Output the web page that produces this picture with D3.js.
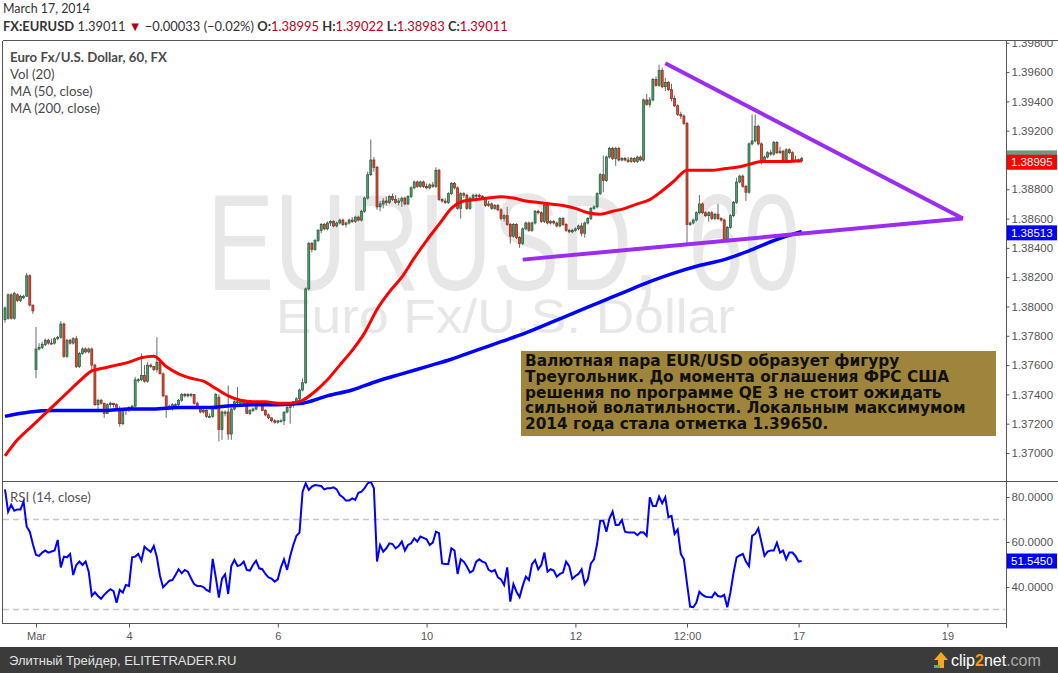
<!DOCTYPE html>
<html>
<head>
<meta charset="utf-8">
<script src="https://cdn.jsdelivr.net/npm/d3@7"></script>
<style>
  body { margin: 0; background: #fff; }
  svg { display: block; }
</style>
</head>
<body>
<div id="chart"></div>
<script>
// EUR/USD hourly candles, Feb 28 - Mar 17 2014 (one value per bar)
var opens = [
  1.3791,1.3792,1.3808,1.3792,1.3808,1.3804,1.3806,1.3807,1.3821,1.3801,
  1.3757,1.3771,1.3772,1.3774,1.3777,1.3775,1.3775,1.3778,1.3779,1.3788,
  1.3766,1.3777,1.3775,1.3778,1.3759,1.3768,1.3771,1.3769,1.3771,1.3760,
  1.3733,1.3736,1.3734,1.3727,1.3733,1.3734,1.3733,1.3730,1.3720,1.3729,
  1.3730,1.3731,1.3732,1.3750,1.3750,1.3753,1.3749,1.3760,1.3759,1.3757,
  1.3762,1.3754,1.3739,1.3732,1.3732,1.3733,1.3733,1.3736,1.3740,1.3739,
  1.3740,1.3740,1.3734,1.3731,1.3728,1.3729,1.3725,1.3725,1.3730,1.3738,
  1.3716,1.3727,1.3728,1.3713,1.3730,1.3735,1.3734,1.3735,1.3734,1.3727,
  1.3729,1.3730,1.3733,1.3734,1.3729,1.3726,1.3724,1.3722,1.3721,1.3722,
  1.3722,1.3728,1.3731,1.3734,1.3735,1.3737,1.3743,1.3748,1.3812,1.3843,
  1.3839,1.3845,1.3852,1.3856,1.3853,1.3857,1.3858,1.3855,1.3857,1.3859,
  1.3856,1.3857,1.3859,1.3858,1.3861,1.3859,1.3865,1.3874,1.3890,1.3900,
  1.3895,1.3868,1.3870,1.3872,1.3871,1.3875,1.3873,1.3871,1.3872,1.3874,
  1.3870,1.3875,1.3881,1.3885,1.3882,1.3885,1.3882,1.3881,1.3883,1.3882,
  1.3893,1.3873,1.3872,1.3871,1.3877,1.3884,1.3881,1.3867,1.3877,1.3876,
  1.3867,1.3874,1.3876,1.3876,1.3875,1.3874,1.3869,1.3870,1.3867,1.3869,
  1.3866,1.3860,1.3862,1.3856,1.3848,1.3856,1.3847,1.3843,1.3853,1.3857,
  1.3852,1.3857,1.3865,1.3864,1.3858,1.3869,1.3857,1.3858,1.3857,1.3855,
  1.3860,1.3856,1.3852,1.3851,1.3852,1.3853,1.3855,1.3850,1.3857,1.3860,
  1.3867,1.3868,1.3877,1.3890,1.3886,1.3902,1.3908,1.3901,1.3908,1.3900,
  1.3901,1.3900,1.3899,1.3901,1.3899,1.3902,1.3900,1.3941,1.3938,1.3941,
  1.3955,1.3951,1.3961,1.3950,1.3953,1.3948,1.3942,1.3937,1.3931,1.3930,
  1.3925,1.3856,1.3857,1.3859,1.3864,1.3870,1.3864,1.3862,1.3864,1.3860,
  1.3863,1.3860,1.3859,1.3846,1.3854,1.3862,1.3871,1.3885,1.3889,1.3882,
  1.3878,1.3911,1.3913,1.3923,1.3911,1.3899,1.3902,1.3905,1.3904,1.3912,
  1.3905,1.3906,1.3900,1.3907,1.3905,1.3900,1.3900,1.38995
];
var highs = [
  1.3800,1.3809,1.3809,1.3810,1.3809,1.3808,1.3808,1.3823,1.3822,1.3801,
  1.3786,1.3775,1.3776,1.3778,1.3778,1.3778,1.3779,1.3780,1.3790,1.3789,
  1.3778,1.3778,1.3779,1.3780,1.3769,1.3772,1.3772,1.3772,1.3772,1.3761,
  1.3737,1.3737,1.3734,1.3734,1.3735,1.3734,1.3734,1.3732,1.3730,1.3731,
  1.3732,1.3733,1.3752,1.3751,1.3768,1.3760,1.3762,1.3761,1.3759,1.3779,
  1.3762,1.3755,1.3739,1.3733,1.3734,1.3734,1.3737,1.3741,1.3741,1.3741,
  1.3741,1.3740,1.3735,1.3732,1.3730,1.3730,1.3727,1.3731,1.3741,1.3740,
  1.3729,1.3729,1.3746,1.3731,1.3736,1.3745,1.3736,1.3736,1.3735,1.3730,
  1.3731,1.3733,1.3734,1.3735,1.3730,1.3727,1.3724,1.3723,1.3722,1.3723,
  1.3728,1.3732,1.3734,1.3735,1.3738,1.3744,1.3751,1.3813,1.3844,1.3844,
  1.3846,1.3853,1.3857,1.3857,1.3858,1.3859,1.3859,1.3858,1.3860,1.3860,
  1.3858,1.3860,1.3861,1.3862,1.3862,1.3866,1.3875,1.3892,1.3914,1.3902,
  1.3896,1.3872,1.3874,1.3875,1.3876,1.3877,1.3876,1.3874,1.3875,1.3875,
  1.3876,1.3882,1.3886,1.3886,1.3886,1.3886,1.3884,1.3884,1.3885,1.3895,
  1.3894,1.3874,1.3874,1.3878,1.3885,1.3885,1.3882,1.3878,1.3878,1.3877,
  1.3875,1.3877,1.3877,1.3877,1.3876,1.3875,1.3872,1.3871,1.3870,1.3870,
  1.3867,1.3863,1.3868,1.3857,1.3857,1.3857,1.3848,1.3854,1.3858,1.3858,
  1.3858,1.3866,1.3866,1.3865,1.3870,1.3870,1.3859,1.3859,1.3858,1.3861,
  1.3861,1.3857,1.3853,1.3853,1.3854,1.3856,1.3857,1.3858,1.3861,1.3868,
  1.3869,1.3878,1.3891,1.3903,1.3903,1.3909,1.3909,1.3909,1.3909,1.3902,
  1.3902,1.3902,1.3902,1.3902,1.3903,1.3903,1.3942,1.3945,1.3943,1.3956,
  1.3957,1.3965,1.3963,1.3956,1.3954,1.3952,1.3944,1.3938,1.3933,1.3931,
  1.3926,1.3858,1.3860,1.3865,1.3876,1.3871,1.3865,1.3865,1.3865,1.3864,
  1.3870,1.3861,1.3860,1.3855,1.3863,1.3872,1.3888,1.3890,1.3890,1.3883,
  1.3912,1.3931,1.3931,1.3924,1.3912,1.3903,1.3906,1.3907,1.3913,1.3913,
  1.3909,1.3907,1.3908,1.3908,1.3906,1.3903,1.3901,1.39022
];
var lows = [
  1.3789,1.3791,1.3791,1.3791,1.3803,1.3803,1.3805,1.3807,1.3800,1.3795,
  1.3751,1.3770,1.3771,1.3773,1.3774,1.3774,1.3774,1.3777,1.3778,1.3765,
  1.3765,1.3774,1.3774,1.3758,1.3758,1.3767,1.3768,1.3768,1.3756,1.3732,
  1.3729,1.3733,1.3724,1.3727,1.3731,1.3731,1.3729,1.3718,1.3719,1.3726,
  1.3728,1.3730,1.3731,1.3748,1.3749,1.3748,1.3748,1.3758,1.3756,1.3755,
  1.3754,1.3738,1.3724,1.3730,1.3729,1.3731,1.3732,1.3735,1.3738,1.3738,
  1.3738,1.3733,1.3730,1.3727,1.3727,1.3724,1.3724,1.3724,1.3730,1.3708,
  1.3709,1.3725,1.3709,1.3709,1.3729,1.3733,1.3733,1.3733,1.3727,1.3726,
  1.3728,1.3729,1.3732,1.3729,1.3725,1.3723,1.3721,1.3720,1.3720,1.3721,
  1.3719,1.3727,1.3720,1.3731,1.3734,1.3736,1.3742,1.3747,1.3811,1.3837,
  1.3838,1.3844,1.3850,1.3852,1.3852,1.3855,1.3854,1.3854,1.3856,1.3855,
  1.3854,1.3856,1.3857,1.3857,1.3858,1.3858,1.3864,1.3873,1.3889,1.3892,
  1.3866,1.3865,1.3867,1.3869,1.3870,1.3872,1.3870,1.3869,1.3868,1.3869,
  1.3869,1.3874,1.3880,1.3881,1.3881,1.3881,1.3880,1.3880,1.3881,1.3881,
  1.3872,1.3871,1.3870,1.3870,1.3876,1.3880,1.3866,1.3860,1.3874,1.3866,
  1.3866,1.3873,1.3874,1.3874,1.3873,1.3868,1.3868,1.3866,1.3866,1.3865,
  1.3859,1.3858,1.3855,1.3843,1.3847,1.3846,1.3840,1.3842,1.3852,1.3851,
  1.3851,1.3856,1.3863,1.3857,1.3857,1.3856,1.3856,1.3856,1.3854,1.3854,
  1.3855,1.3851,1.3850,1.3850,1.3851,1.3852,1.3848,1.3847,1.3856,1.3859,
  1.3866,1.3867,1.3876,1.3878,1.3885,1.3901,1.3900,1.3896,1.3899,1.3899,
  1.3899,1.3898,1.3898,1.3898,1.3898,1.3899,1.3899,1.3937,1.3936,1.3940,
  1.3950,1.3950,1.3949,1.3947,1.3947,1.3940,1.3936,1.3930,1.3928,1.3924,
  1.3843,1.3855,1.3856,1.3858,1.3863,1.3863,1.3861,1.3858,1.3859,1.3859,
  1.3859,1.3858,1.3845,1.3845,1.3853,1.3861,1.3870,1.3884,1.3881,1.3872,
  1.3877,1.3910,1.3912,1.3910,1.3897,1.3898,1.3901,1.3903,1.3903,1.3904,
  1.3904,1.3899,1.3899,1.3904,1.3899,1.3899,1.3898,1.38983
];
var closes = [
  1.3799,1.3808,1.3792,1.3809,1.3804,1.3807,1.3807,1.3821,1.3801,1.3797,
  1.3771,1.3772,1.3774,1.3777,1.3775,1.3775,1.3778,1.3779,1.3788,1.3766,
  1.3777,1.3775,1.3778,1.3759,1.3768,1.3771,1.3769,1.3771,1.3760,1.3733,
  1.3736,1.3734,1.3727,1.3733,1.3734,1.3733,1.3730,1.3720,1.3729,1.3730,
  1.3731,1.3732,1.3750,1.3750,1.3753,1.3749,1.3760,1.3759,1.3757,1.3762,
  1.3754,1.3739,1.3732,1.3732,1.3733,1.3733,1.3736,1.3740,1.3739,1.3740,
  1.3740,1.3734,1.3731,1.3728,1.3729,1.3725,1.3725,1.3730,1.3740,1.3716,
  1.3728,1.3728,1.3713,1.3730,1.3735,1.3735,1.3735,1.3734,1.3727,1.3729,
  1.3730,1.3733,1.3734,1.3729,1.3726,1.3724,1.3722,1.3721,1.3722,1.3722,
  1.3728,1.3731,1.3734,1.3735,1.3737,1.3743,1.3748,1.3812,1.3843,1.3839,
  1.3845,1.3852,1.3856,1.3853,1.3857,1.3858,1.3855,1.3857,1.3859,1.3856,
  1.3857,1.3859,1.3858,1.3861,1.3859,1.3865,1.3874,1.3890,1.3900,1.3895,
  1.3868,1.3870,1.3872,1.3871,1.3875,1.3873,1.3871,1.3872,1.3874,1.3870,
  1.3875,1.3881,1.3885,1.3882,1.3885,1.3882,1.3881,1.3883,1.3882,1.3893,
  1.3873,1.3872,1.3871,1.3877,1.3884,1.3881,1.3867,1.3877,1.3876,1.3867,
  1.3874,1.3876,1.3876,1.3875,1.3874,1.3869,1.3870,1.3867,1.3869,1.3866,
  1.3860,1.3862,1.3856,1.3848,1.3856,1.3847,1.3843,1.3853,1.3857,1.3852,
  1.3857,1.3865,1.3864,1.3858,1.3869,1.3857,1.3858,1.3857,1.3855,1.3860,
  1.3856,1.3852,1.3851,1.3852,1.3853,1.3855,1.3850,1.3857,1.3860,1.3867,
  1.3868,1.3877,1.3890,1.3886,1.3902,1.3908,1.3901,1.3908,1.3900,1.3901,
  1.3900,1.3899,1.3901,1.3899,1.3902,1.3900,1.3941,1.3938,1.3941,1.3955,
  1.3951,1.3961,1.3950,1.3953,1.3948,1.3942,1.3937,1.3931,1.3930,1.3925,
  1.3856,1.3857,1.3859,1.3864,1.3870,1.3864,1.3862,1.3864,1.3860,1.3863,
  1.3860,1.3859,1.3846,1.3854,1.3862,1.3871,1.3885,1.3889,1.3882,1.3878,
  1.3911,1.3913,1.3923,1.3911,1.3899,1.3902,1.3905,1.3904,1.3912,1.3905,
  1.3906,1.3900,1.3907,1.3905,1.3900,1.3900,1.38995,1.39011
];

// moving averages, read every 4-8 bars
var ma50Bars = [0,4,8,12,16,20,24,28,32,36,40,44,48,52,56,60,64,68,72,76,80,84,88,92,96,100,104,108,112,116,120,124,128,132,136,140,144,148,152,156,160,164,168,172,176,180,184,188,192,196,200,204,208,212,216,220,224,228,232,236,240,244,248,252,257];
var ma50Vals = [1.3698,1.3709,1.3717,1.3725,1.3733,1.3741,1.3749,1.3756,1.3758,1.3760,1.3762,1.3765,1.3766,1.3759,1.3754,1.3751,1.3749,1.3744,1.3739,1.3736,1.3735,1.3735,1.3734,1.3734,1.3736,1.3742,1.3750,1.3760,1.3770,1.3782,1.3798,1.3810,1.3820,1.3833,1.3845,1.3856,1.3867,1.3872,1.3873,1.3874,1.3875,1.3874,1.3872,1.3871,1.3870,1.3869,1.3867,1.3864,1.3863,1.3865,1.3867,1.3870,1.3873,1.3879,1.3886,1.3893,1.3893,1.3893,1.3894,1.3895,1.3897,1.3899,1.3899,1.3899,1.38995];
var ma200Bars = [0,8,16,24,32,40,48,56,64,72,80,88,96,104,112,120,128,136,144,152,160,168,176,184,192,200,208,216,224,232,240,248,257];
var ma200Vals = [1.3725,1.3728,1.3729,1.3729,1.3729,1.3730,1.3730,1.3731,1.3731,1.3732,1.3733,1.3733,1.3734,1.3739,1.3743,1.3749,1.3754,1.3759,1.3764,1.3770,1.3776,1.3782,1.3789,1.3796,1.3803,1.3810,1.3817,1.3823,1.3828,1.3832,1.3838,1.3845,1.38513];

// RSI(14), one value per bar
var rsi = [
  83.4,73.5,76.5,73.9,74.5,74.5,77.9,66.8,64.6,59.0,
  54.2,53.8,55.3,56.2,55.3,55.8,56.2,60.9,48.7,53.5,
  53.2,54.7,45.3,49.8,51.3,49.8,51.3,46.8,36.0,37.6,
  36.0,34.8,36.5,37.9,39.0,38.2,33.0,38.7,37.5,40.9,
  40.5,53.2,53.5,54.7,51.7,57.9,56.7,55.6,58.2,53.2,
  44.9,39.9,41.3,42.8,43.1,45.3,47.9,46.1,47.6,46.8,
  43.9,41.3,40.5,40.5,40.0,38.7,37.9,52.5,44.3,35.3,
  43.7,45.6,36.9,49.3,52.0,49.3,49.8,51.3,47.6,47.3,
  49.8,51.7,48.3,47.9,45.8,44.3,43.7,42.4,43.4,48.7,
  52.3,47.6,53.8,58.7,62.7,64.2,82.4,86.1,83.1,84.6,
  85.3,85.1,84.9,83.4,83.9,83.9,84.3,83.4,80.9,79.9,
  78.4,78.4,79.4,78.7,81.9,82.4,83.9,86.1,86.8,83.9,
  51.3,58.7,55.7,57.2,59.4,59.1,57.2,58.2,60.2,56.2,
  58.7,59.4,61.6,60.2,62.4,61.8,61.2,58.7,59.7,64.6,
  63.9,50.5,50.2,50.2,57.2,56.2,45.8,52.3,51.3,49.1,
  46.4,47.3,51.3,52.3,51.3,50.8,47.6,46.8,47.6,44.3,
  43.4,40.9,48.7,33.5,41.3,37.9,35.5,40.5,44.6,43.1,
  50.2,52.0,47.9,49.8,55.3,46.8,47.9,47.3,44.6,45.8,
  46.4,51.3,49.3,43.6,44.9,45.8,47.9,41.3,43.4,50.5,
  52.3,59.1,69.5,69.5,64.6,70.5,73.5,67.6,67.6,69.8,
  64.6,64.2,64.2,64.2,63.0,64.3,64.2,62.7,79.9,76.0,
  76.0,80.2,77.2,79.9,71.0,71.6,63.6,65.6,54.7,52.3,
  41.6,31.3,31.0,33.0,37.9,36.5,35.7,35.5,35.4,37.5,
  36.0,35.7,36.5,31.0,37.5,46.1,53.2,54.0,54.7,51.3,
  49.3,62.7,63.6,66.1,60.0,53.8,55.7,56.2,56.2,59.7,
  55.3,56.2,52.3,55.3,55.3,53.8,51.3,51.545
];

// triangle drawn by the author (bar index, price)
var triUpper = [[213, 1.3966], [309, 1.3860]];
var triLower = [[167, 1.3832], [309, 1.3860]];

var priceTicks = [1.370,1.372,1.374,1.376,1.378,1.380,1.382,1.384,1.386,1.388,1.392,1.394,1.396,1.398];
var rsiTicks = [40, 60, 80];
var dayBars = [10, 40, 88, 136, 184, 220, 256, 304];
var dayLabels = ['Mar', '4', '6', '10', '12', '12:00', '17', '19'];

var noteLines = [
  'Валютная пара EUR/USD образует фигуру',
  'Треугольник. До момента оглашения ФРС США',
  'решения по программе QE 3 не стоит ожидать',
  'сильной волатильности. Локальным максимумом',
  '2014 года стала отметка 1.39650.'
];

var w = 1058, h = 673;
var svg = d3.select('#chart').append('svg')
  .attr('width', w)
  .attr('height', h);

var x = d3.scaleLinear().domain([0, 304]).range([5, 947.4]);
var y = d3.scaleLinear().domain([1.37, 1.398]).range([453, 42.8]);
var yr = d3.scaleLinear().domain([40, 80]).range([587, 497]);

var defs = svg.append('defs');
defs.append('clipPath').attr('id', 'clipMain')
  .append('rect').attr('x', 3).attr('y', 41).attr('width', 1002).attr('height', 439);
defs.append('clipPath').attr('id', 'clipRsi')
  .append('rect').attr('x', 3).attr('y', 482).attr('width', 1002).attr('height', 140);
defs.append('clipPath').attr('id', 'clipAxis')
  .append('rect').attr('x', 1000).attr('y', 41).attr('width', 58).attr('height', 439);

function fitWidth(node, target) {
  var len = node.getComputedTextLength();
  var fs = parseFloat(node.getAttribute('font-size'));
  node.setAttribute('font-size', (fs * target / len).toFixed(2));
}

// header
var hdr = svg.append('g').attr('font-family', 'Lato, "Open Sans", sans-serif').attr('fill', '#333');
var h1 = hdr.append('text').attr('x', 3).attr('y', 13).attr('font-size', 13).text('March 17, 2014');
fitWidth(h1.node(), 87);
var h2 = hdr.append('text').attr('x', 3).attr('y', 31).attr('font-size', 13);
h2.append('tspan').attr('font-weight', 'bold').text('FX:EURUSD');
h2.append('tspan').text('\u00a01.39011\u00a0');
h2.append('tspan').attr('fill', '#b2001a').text('\u25bc');
h2.append('tspan').text('\u00a0\u22120.00033 (\u22120.02%)\u00a0');
[['O:', '1.38995'], ['H:', '1.39022'], ['L:', '1.38983'], ['C:', '1.39011']].forEach(function(p, i) {
  h2.append('tspan').attr('font-weight', 'bold').text((i ? '\u00a0' : '') + p[0]);
  h2.append('tspan').attr('fill', '#c0001a').text(p[1]);
});
fitWidth(h2.node(), 505);

// main panel
var main = svg.append('g').attr('clip-path', 'url(#clipMain)');

main.append('text')
  .attr('x', 207).attr('y', 290)
  .attr('font-family', '"Liberation Sans", Arial, sans-serif')
  .attr('font-size', 138)
  .attr('textLength', 593).attr('lengthAdjust', 'spacingAndGlyphs')
  .attr('fill', '#e7e7e7')
  .text('EURUSD, 60');
main.append('text')
  .attr('x', 276).attr('y', 333)
  .attr('font-family', '"Liberation Sans", Arial, sans-serif')
  .attr('font-size', 48)
  .attr('textLength', 459).attr('lengthAdjust', 'spacingAndGlyphs')
  .attr('fill', '#e7e7e7')
  .text('Euro Fx/U.S. Dollar');

var bars = d3.range(closes.length);

main.append('g').attr('class', 'wicks')
  .selectAll('line').data(bars).enter().append('line')
  .attr('x1', function(i) { return x(i); })
  .attr('x2', function(i) { return x(i); })
  .attr('y1', function(i) { return y(highs[i]); })
  .attr('y2', function(i) { return y(lows[i]); })
  .attr('stroke', '#6a6a6a')
  .attr('stroke-width', 1);

main.append('g').attr('class', 'bodies')
  .selectAll('rect').data(bars).enter().append('rect')
  .attr('x', function(i) { return x(i) - 1; })
  .attr('width', 2)
  .attr('y', function(i) { return y(Math.max(opens[i], closes[i])); })
  .attr('height', function(i) { return Math.max(1, Math.abs(y(opens[i]) - y(closes[i]))); })
  .attr('fill', function(i) { return closes[i] >= opens[i] ? '#4f9d6c' : '#e4472e'; })
  .attr('stroke', function(i) { return closes[i] >= opens[i] ? '#24563a' : '#7c2a1a'; })
  .attr('stroke-width', 0.7);

var maLine = d3.line()
  .x(function(d) { return x(d[0]); })
  .y(function(d) { return y(d[1]); })
  .curve(d3.curveMonotoneX);

main.append('path')
  .datum(d3.zip(ma200Bars, ma200Vals))
  .attr('d', maLine)
  .attr('fill', 'none').attr('stroke', '#0000ff').attr('stroke-width', 3.5);
main.append('path')
  .datum(d3.zip(ma50Bars, ma50Vals))
  .attr('d', maLine)
  .attr('fill', 'none').attr('stroke', '#ff0000').attr('stroke-width', 3);

var triLine = d3.line()
  .x(function(d) { return x(d[0]); })
  .y(function(d) { return y(d[1]); });
[triUpper, triLower].forEach(function(seg) {
  main.append('path').attr('d', triLine(seg))
    .attr('fill', 'none').attr('stroke', '#9b2cf2').attr('stroke-width', 4);
});

// legend
var leg = svg.append('g').attr('font-family', 'Lato, "Open Sans", sans-serif').attr('fill', '#4a4a4a');
var l1 = leg.append('text').attr('x', 10).attr('y', 62).attr('font-size', 13)
  .attr('font-weight', 'bold').text('Euro Fx/U.S. Dollar, 60, FX');
fitWidth(l1.node(), 157);
var legFs = l1.attr('font-size');
['Vol (20)', 'MA (50, close)', 'MA (200, close)'].forEach(function(t, i) {
  leg.append('text').attr('x', 10).attr('y', 79 + i * 17).attr('font-size', legFs).text(t);
});

// annotation
var note = svg.append('g');
note.append('rect').attr('x', 521).attr('y', 351).attr('width', 475).attr('height', 85)
  .attr('fill', '#9e853b');
var noteText = note.selectAll('text').data(noteLines).enter().append('text')
  .attr('x', 525)
  .attr('y', function(d, i) { return 366 + i * 15.8; })
  .attr('font-family', '"DejaVu Sans", Verdana, sans-serif')
  .attr('font-weight', 'bold')
  .attr('font-size', 13)
  .attr('fill', '#111')
  .text(function(d) { return d; });
fitWidth(noteText.nodes()[3], 441);
noteText.attr('font-size', noteText.nodes()[3].getAttribute('font-size'));

// RSI panel
var rsiG = svg.append('g').attr('clip-path', 'url(#clipRsi)');
[70, 30].forEach(function(v) {
  rsiG.append('line').attr('x1', 3).attr('x2', 1005)
    .attr('y1', yr(v)).attr('y2', yr(v))
    .attr('stroke', '#c8c8c8').attr('stroke-width', 1.5).attr('stroke-dasharray', '6,4');
});
rsiG.append('text').attr('x', 10).attr('y', 502)
  .attr('font-family', 'Lato, "Open Sans", sans-serif').attr('font-size', legFs)
  .attr('fill', '#555').text('RSI (14, close)');
rsiG.append('path')
  .datum(rsi)
  .attr('d', d3.line().x(function(d, i) { return x(i); }).y(function(d) { return yr(d); }))
  .attr('fill', 'none').attr('stroke', '#0000ff').attr('stroke-width', 2);

// frame
var frame = svg.append('g').attr('stroke', '#555').attr('stroke-width', 1).attr('shape-rendering', 'crispEdges');
frame.append('line').attr('x1', 2.5).attr('x2', 1058).attr('y1', 40.5).attr('y2', 40.5);
frame.append('line').attr('x1', 2.5).attr('x2', 1058).attr('y1', 481.5).attr('y2', 481.5);
frame.append('line').attr('x1', 2.5).attr('x2', 1006.5).attr('y1', 623.5).attr('y2', 623.5);
frame.append('line').attr('x1', 2.5).attr('x2', 2.5).attr('y1', 40.5).attr('y2', 623.5);
frame.append('line').attr('x1', 1006.5).attr('x2', 1006.5).attr('y1', 40.5).attr('y2', 628);

// price axis (wrapper carries the clip so it stays in page coordinates)
var axFont = '"Liberation Sans", Arial, sans-serif';
var yAxis = svg.append('g').attr('clip-path', 'url(#clipAxis)')
  .append('g').attr('transform', 'translate(1006.5,0)')
  .call(d3.axisRight(y).tickValues(priceTicks).tickFormat(d3.format('.5f')).tickSize(3).tickPadding(2));
yAxis.select('.domain').remove();
yAxis.selectAll('line').attr('stroke', '#555');
yAxis.selectAll('text').attr('font-family', axFont).attr('font-size', 11.5).attr('fill', '#555');

function valueTag(label, fill, yc) {
  var g = svg.append('g');
  g.append('rect').attr('x', 1007).attr('y', yc - 7.5).attr('width', 50).attr('height', 15).attr('fill', fill);
  g.append('text').attr('x', 1011).attr('y', yc + 4)
    .attr('font-family', axFont).attr('font-size', 11.5).attr('fill', '#fff').text(label);
}
svg.append('rect').attr('x', 1007).attr('y', y(closes[closes.length - 1]) - 8)
  .attr('width', 50).attr('height', 15).attr('fill', '#6f9a80');
valueTag('1.38995', '#ff0000', y(ma50Vals[ma50Vals.length - 1]) + 1.5);
valueTag('1.38513', '#0000ff', y(ma200Vals[ma200Vals.length - 1]) + 1.5);

// RSI axis
var rAxis = svg.append('g').attr('transform', 'translate(1006.5,0)')
  .call(d3.axisRight(yr).tickValues(rsiTicks).tickFormat(d3.format('.4f')).tickSize(3).tickPadding(2));
rAxis.select('.domain').remove();
rAxis.selectAll('line').attr('stroke', '#555');
rAxis.selectAll('text').attr('font-family', axFont).attr('font-size', 11.5).attr('fill', '#555');
valueTag('51.5450', '#0000ff', yr(rsi[rsi.length - 1]));

// time axis
var xAxis = svg.append('g').attr('transform', 'translate(0,623.5)')
  .call(d3.axisBottom(x).tickValues(dayBars).tickFormat(function(d, i) { return dayLabels[i]; })
    .tickSize(4).tickPadding(5));
xAxis.select('.domain').remove();
xAxis.selectAll('line').attr('stroke', '#555');
xAxis.selectAll('text').attr('font-family', '"Liberation Sans Narrow", "Liberation Sans", Arial, sans-serif')
  .attr('font-size', 11).attr('fill', '#555');

// footer
svg.append('rect').attr('x', 0).attr('y', 647).attr('width', w).attr('height', 26).attr('fill', '#3b3b3b');
svg.append('text').attr('x', 9).attr('y', 665)
  .attr('font-family', '"Liberation Sans Narrow", "Liberation Sans", sans-serif').attr('font-size', 13)
  .attr('fill', '#e2e2e2').text('Элитный Трейдер, ELITETRADER.RU');
var logo = svg.append('g');
logo.append('path').attr('d', 'M938,668 L938,660 L934,660 L941,652 L948,660 L944,660 L944,668 Z')
  .attr('fill', '#f5a623');
logo.append('rect').attr('x', 934).attr('y', 665).attr('width', 6).attr('height', 3).attr('fill', '#6ab04c');
var lt = logo.append('text').attr('x', 951).attr('y', 666)
  .attr('font-family', '"Liberation Sans Narrow", "Liberation Sans", sans-serif').attr('font-size', 16).attr('fill', '#fff');
lt.append('tspan').text('clip');
lt.append('tspan').attr('fill', '#f39c12').attr('font-weight', 'bold').text('2');
lt.append('tspan').text('net');
lt.append('tspan').attr('fill', '#aaa').text('.com');
</script>
</body>
</html>
